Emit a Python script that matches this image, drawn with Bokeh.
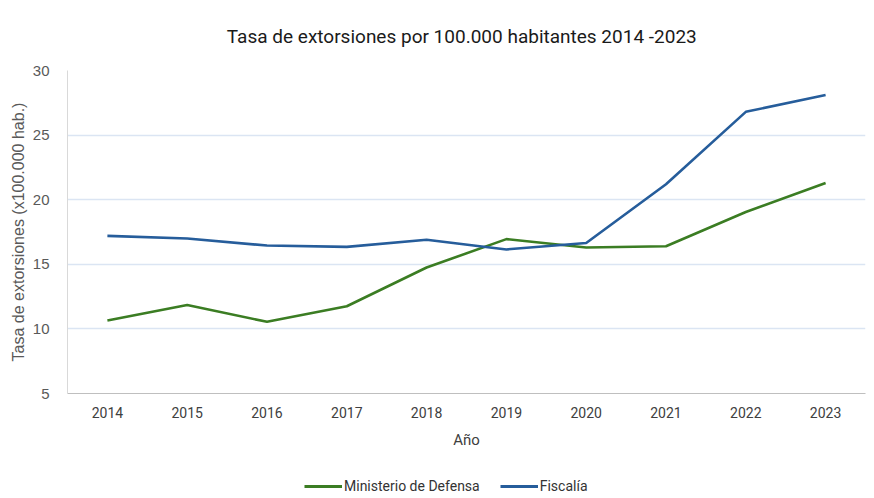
from bokeh.plotting import figure
from bokeh.models import Legend, LegendItem, Range1d, FactorRange
from bokeh.layouts import column
from bokeh.embed import file_html
from bokeh.resources import INLINE

years = ["2014", "2015", "2016", "2017", "2018", "2019", "2020", "2021", "2022", "2023"]
mindefensa = [10.65, 11.85, 10.55, 11.75, 14.75, 16.95, 16.3, 16.4, 19.05, 21.3]
fiscalia = [17.2, 17.0, 16.45, 16.35, 16.9, 16.15, 16.65, 21.2, 26.8, 28.1]
y_ticks = [5, 10, 15, 20, 25, 30]
series_names = ["Ministerio de Defensa", "Fiscalía"]
series_colors = ["#3b7d23", "#265d9b"]

title_text = "Tasa de extorsiones por 100.000 habitantes 2014   -2023"

p = figure(width=866, height=468, x_range=FactorRange(*years), y_range=Range1d(5, 30),
           output_backend="svg", toolbar_location=None,
           min_border_left=67, min_border_right=1, min_border_top=70, min_border_bottom=75)
p.x_range.range_padding = 0

p.title.text = title_text
p.title.align = "center"
p.title.vertical_align = "middle"
p.title.offset = -14
p.title.text_font = "Roboto"
p.title.text_font_size = "19px"
p.title.text_font_style = "normal"
p.title.text_color = "#1a1a1a"
p.title.standoff = 44

p.outline_line_color = None
p.background_fill_color = "white"
p.border_fill_color = "white"

p.xgrid.grid_line_color = None
p.ygrid.grid_line_color = "#dbe5f3"
p.ygrid.grid_line_width = 1.3

p.yaxis.ticker = y_ticks
p.yaxis.axis_line_color = "#d9d9d9"
p.yaxis.major_tick_line_color = None
p.yaxis.minor_tick_line_color = None
p.yaxis.major_label_text_font = "Liberation Sans"
p.yaxis.major_label_text_font_size = "15px"
p.yaxis.major_label_text_color = "#595959"
p.yaxis.major_label_standoff = 12
p.yaxis.axis_label = "Tasa de extorsiones (x100.000 hab.)"
p.yaxis.axis_label_text_font = "Liberation Sans"
p.yaxis.axis_label_text_font_size = "16px"
p.yaxis.axis_label_text_font_style = "normal"
p.yaxis.axis_label_text_color = "#595959"
p.yaxis.axis_label_standoff = 3

p.xaxis.axis_line_color = "#bfbfbf"
p.xaxis.major_tick_line_color = None
p.xaxis.minor_tick_line_color = None
p.xaxis.major_label_text_font = "Roboto"
p.xaxis.major_label_text_font_size = "14px"
p.xaxis.major_label_text_color = "#404040"
p.xaxis.major_label_standoff = 7
p.xaxis.axis_label = "Año"
p.xaxis.axis_label_text_font = "Roboto"
p.xaxis.axis_label_text_font_size = "15px"
p.xaxis.axis_label_text_font_style = "normal"
p.xaxis.axis_label_text_color = "#404040"
p.xaxis.axis_label_standoff = 10

p.line(years, mindefensa, line_color=series_colors[0], line_width=2.6)
p.line(years, fiscalia, line_color=series_colors[1], line_width=2.6)

# legend strip below the chart (same series, drawn outside its visible range)
lf = figure(width=866, height=28, x_range=FactorRange(*years), y_range=Range1d(100, 101),
            output_backend="svg", toolbar_location=None,
            min_border_left=0, min_border_right=0, min_border_top=0, min_border_bottom=0)
lf.axis.visible = False
lf.grid.visible = False
lf.outline_line_color = None
lf.border_fill_color = "white"
l1 = lf.line(years, mindefensa, line_color=series_colors[0], line_width=3)
l2 = lf.line(years, fiscalia, line_color=series_colors[1], line_width=3)

legend = Legend(items=[LegendItem(label=series_names[0], renderers=[l1]),
                       LegendItem(label=series_names[1], renderers=[l2])],
                orientation="horizontal", location=(237, 0))
legend.label_text_font = "Roboto"
legend.label_text_font_size = "14px"
legend.label_text_color = "#333333"
legend.glyph_width = 38
legend.label_standoff = 2
legend.spacing = 20
legend.border_line_color = None
legend.background_fill_alpha = 0
legend.margin = 0
legend.padding = 0
lf.add_layout(legend, "center")

layout = column(p, lf, spacing=0)
open("out.html", "w").write(file_html(layout, INLINE))
